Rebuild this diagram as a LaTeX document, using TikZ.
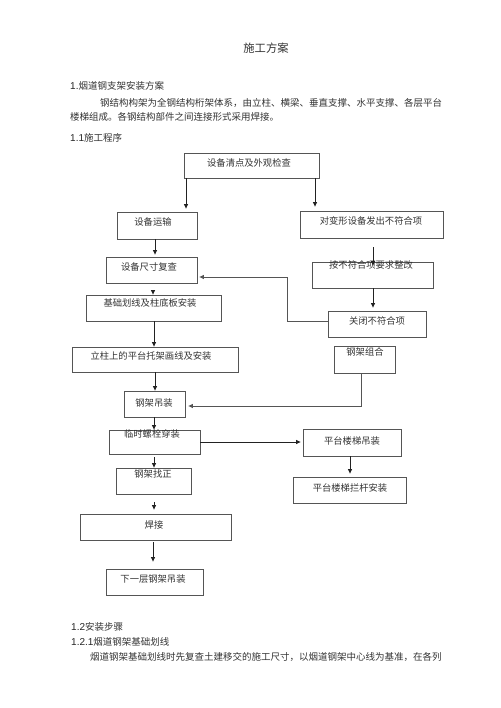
\documentclass[tikz,border=0pt]{standalone}
\usepackage{fontspec}
\setmainfont{Noto Sans CJK SC}
\newfontfamily\numfont{Liberation Sans}
\usetikzlibrary{arrows.meta}
\definecolor{boxline}{HTML}{555555}
\definecolor{arrline}{HTML}{222222}
\definecolor{txt}{HTML}{333333}
\tikzset{
  bx/.style={draw=boxline, line width=0.8pt, inner sep=0pt},
  lbl/.style={inner sep=0pt, text=txt, font=\fontsize{9.3}{11}\selectfont},
  body/.style={inner sep=0pt, anchor=west, text=txt, font=\fontsize{9.5}{11}\selectfont},
  arr/.style={draw=arrline, line width=0.8pt, -{Triangle[length=4.5pt,width=4pt]}},
  back/.style={draw=boxline, line width=0.8pt, -{Triangle[length=4.5pt,width=4pt]}},
}
\newcommand{\mkbox}[5]{%
  \node[bx, minimum width={(#4-#2)*1pt}, minimum height={(#5-#3)*1pt}] (#1) at ({(#2+#4)/2},{(#3+#5)/2}) {};}
\newcommand{\num}[1]{{\numfont\fontsize{10}{11}\selectfont\color{black!85}#1}}
\begin{document}
\begin{tikzpicture}[x=1pt,y=-1pt]
\useasboundingbox (0,0) rectangle (500,708);
\fill[white] (0,0) rectangle (500,708);

% header texts
\node[inner sep=0pt, text=txt, font=\fontsize{11.3}{13}\selectfont] (title) at (266,48) {施工方案};
\node[body] (h1) at (70,86) {\num{1.}烟道钢支架安装方案};
\node[body] (p1) at (100,103) {钢结构构架为全钢结构桁架体系，由立柱、横梁、垂直支撑、水平支撑、各层平台};
\node[body] (p2) at (70,117) {楼梯组成。各钢结构部件之间连接形式采用焊接。};
\node[body] (h11) at (70,138) {\num{1.1}施工程序};

% boxes
\mkbox{top}{184}{153}{319}{178}
\mkbox{yunshu}{117}{212}{197}{239}
\mkbox{duibian}{300}{211}{443}{238}
\mkbox{fuchai}{106}{257}{197}{283}
\mkbox{jichu}{86}{295}{221}{321}
\mkbox{anbu}{312}{262}{433}{288}
\mkbox{guanbi}{328}{311}{426}{337}
\mkbox{lizhu}{72}{347}{238}{372}
\mkbox{zuhe}{334}{346}{395}{373}
\mkbox{diaozhuang}{124}{391}{185}{417}
\mkbox{linshi}{109}{430}{200}{454}
\mkbox{pingtai}{303}{429}{401}{456}
\mkbox{langan}{293}{477}{406}{503}
\mkbox{zhaozheng}{116}{468}{191}{494}
\mkbox{hanjie}{80}{514}{231}{540}
\mkbox{xiayiceng}{106}{569}{203}{595}

% box texts
\node[lbl] (ttop) at (249,163) {设备清点及外观检查};
\node[lbl] (tyunshu) at (153,222) {设备运输};
\node[lbl] (tduibian) at (371,221) {对变形设备发出不符合项};
\node[lbl] (tfuchai) at (149,267) {设备尺寸复查};
\node[lbl] (tjichu) at (150,303) {基础划线及柱底板安装};
\node[lbl] (tanbu) at (371,265) {按不符合项要求整改};
\node[lbl] (tguanbi) at (377,321) {关闭不符合项};
\node[lbl] (tlizhu) at (151,356) {立柱上的平台托架画线及安装};
\node[lbl] (tzuhe) at (365,352) {钢架组合};
\node[lbl] (tdiaozhuang) at (154,403) {钢架吊装};
\node[lbl] (tlinshi) at (152,434) {临时螺栓穿装};
\node[lbl] (tpingtai) at (352,441) {平台楼梯吊装};
\node[lbl] (tlangan) at (350,488) {平台楼梯拦杆安装};
\node[lbl] (tzhaozheng) at (153,474) {钢架找正};
\node[lbl] (thanjie) at (154,525) {焊接};
\node[lbl] (txiayiceng) at (153,579) {下一层钢架吊装};

% column coordinates
\coordinate (cA) at (186,0);
\coordinate (cB) at (315,0);
\coordinate (cC) at (155,0);
\coordinate (cD) at (153,0);
\coordinate (cE) at (154,0);
\coordinate (cF) at (373,0);
\coordinate (cG) at (350,0);
\coordinate (k1) at (287,321);
\coordinate (k2) at (287,277);
\coordinate (k3) at (361,406);
\coordinate (k4) at (0,442);

% connectors
\draw[arr, shorten >=3pt] (top.south -| cA) -- (yunshu.north -| cA);
\draw[arr, shorten >=4pt] (top.south -| cB) -- (duibian.north -| cB);
\draw[arr, shorten >=2pt] (yunshu.south -| cC) -- (fuchai.north -| cC);
\draw[arr, shorten <=8pt] (fuchai.south -| cD) -- (jichu.north -| cD);
\draw[arr] (jichu.south -| cE) -- (lizhu.north -| cE);
\draw[arr] (lizhu.south -| cC) -- (diaozhuang.north -| cC);
\draw[arr] (diaozhuang.south -| cE) -- (linshi.north -| cE);
\draw[arr, shorten <=3pt] (linshi.south -| cE) -- (zhaozheng.north -| cE);
\draw[arr, shorten <=8pt, shorten >=4pt] (zhaozheng.south -| cE) -- (hanjie.north -| cE);
\draw[arr, shorten <=2pt, shorten >=7pt] (hanjie.south -| cD) -- (xiayiceng.north -| cD);
\draw[arr, shorten <=9pt, shorten >=-4pt] (duibian.south -| cF) -- (anbu.north -| cF);
\draw[arr, shorten >=3pt] (anbu.south -| cF) -- (guanbi.north -| cF);
\draw[back, shorten >=2pt] (k1 -| guanbi.west) -- (k1) -- (k2) -- (k2 -| fuchai.east);
\draw[back, shorten >=3pt] (zuhe.south -| k3) -- (k3) -- (k3 -| diaozhuang.east);
\draw[arr, shorten >=2pt] (k4 -| linshi.east) -- (k4 -| pingtai.west);
\draw[arr, shorten >=3pt] (pingtai.south -| cG) -- (langan.north -| cG);

% lower texts
\node[body] (h12) at (71,627) {\num{1.2}安装步骤};
\node[body] (h121) at (71,642) {\num{1.2.1}烟道钢架基础划线};
\node[body] (p3) at (90,657) {烟道钢架基础划线时先复查土建移交的施工尺寸，以烟道钢架中心线为基准，在各列};
\end{tikzpicture}
\end{document}
